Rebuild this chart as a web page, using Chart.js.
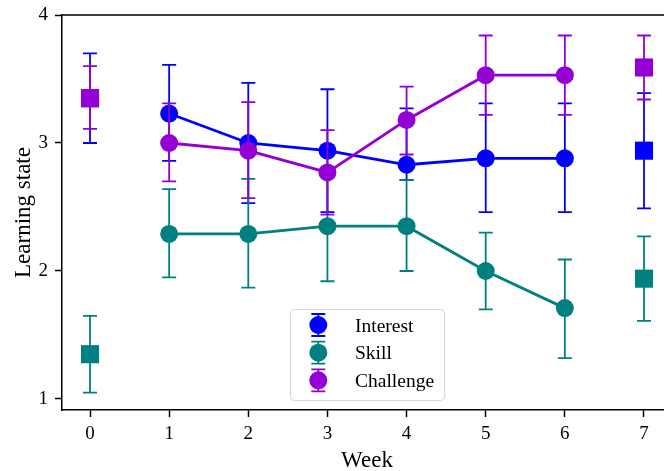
<!DOCTYPE html>
<html><head><meta charset="utf-8">
<script src="https://cdn.jsdelivr.net/npm/chart.js@4"></script>
<style>html,body{margin:0;padding:0;overflow:hidden;background:#fff;width:664px;height:471px}#wrap{width:680px;height:471px}</style>
</head><body><div id="wrap"><canvas id="c" width="680" height="471" style="width:680px;height:471px"></canvas></div>
<script>
// ---- data ----
const weeks = [0, 1, 2, 3, 4, 5, 6, 7];
const xTicks = [0, 1, 2, 3, 4, 5, 6, 7];
const yTicks = [1, 2, 3, 4];
const seriesNames = ['Interest', 'Skill', 'Challenge'];
const seriesColors = ['#0000ff', '#008080', '#9400d3'];

const interestMean = [3.35, 3.23, 3.00, 2.94, 2.83, 2.88, 2.88, 2.94];
const interestHigh = [3.70, 3.61, 3.47, 3.42, 3.27, 3.31, 3.31, 3.39];
const interestLow  = [3.00, 2.86, 2.53, 2.46, 2.71, 2.46, 2.46, 2.49];

const skillMean = [1.35, 2.29, 2.29, 2.35, 2.35, 2.00, 1.71, 1.94];
const skillHigh = [1.65, 2.64, 2.72, 2.78, 2.71, 2.30, 2.09, 2.27];
const skillLow  = [1.05, 1.95, 1.87, 1.92, 2.00, 1.70, 1.32, 1.61];

const challengeMean = [3.35, 3.00, 2.94, 2.77, 3.18, 3.53, 3.53, 3.59];
const challengeHigh = [3.60, 3.31, 3.32, 3.10, 3.44, 3.84, 3.84, 3.84];
const challengeLow  = [3.11, 2.70, 2.57, 2.44, 2.91, 3.22, 3.22, 3.34];

const lineIdx = [1, 2, 3, 4, 5, 6];   // weekly sessions (connected, circles)
const prePostIdx = [0, 7];            // pre / post (squares)

const means = [interestMean, skillMean, challengeMean];
const highs = [interestHigh, skillHigh, challengeHigh];
const lows = [interestLow, skillLow, challengeLow];

const FONT = "'Liberation Serif', 'Times New Roman', serif";

const datasets = [];
seriesNames.forEach((name, s) => {
  const col = seriesColors[s];
  const order = 3 - s; // later series drawn on top
  datasets.push({
    label: name,
    data: lineIdx.map(i => ({x: weeks[i], y: means[s][i]})),
    errLow: lineIdx.map(i => lows[s][i]),
    errHigh: lineIdx.map(i => highs[s][i]),
    showLine: true,
    borderColor: col, backgroundColor: col,
    borderWidth: 2.8,
    pointStyle: 'circle', pointRadius: 9, pointBorderWidth: 0,
    pointBackgroundColor: col, pointBorderColor: col,
    order: order + 0.5
  });
  datasets.push({
    label: name + ' (pre/post)',
    data: prePostIdx.map(i => ({x: weeks[i], y: means[s][i]})),
    errLow: prePostIdx.map(i => lows[s][i]),
    errHigh: prePostIdx.map(i => highs[s][i]),
    showLine: false,
    borderColor: col, backgroundColor: col,
    pointStyle: 'rect', pointRadius: 12.8, pointBorderWidth: 0,
    pointBackgroundColor: col, pointBorderColor: col,
    order: order
  });
});

const errorBars = {
  id: 'errorBars',
  beforeDatasetDraw(chart, args) {
    const ds = chart.data.datasets[args.index];
    const xs = chart.scales.x, ys = chart.scales.y;
    const ctx = chart.ctx, ca = chart.chartArea;
    ctx.save();
    ctx.beginPath();
    ctx.rect(ca.left, ca.top, ca.right - ca.left, ca.bottom - ca.top);
    ctx.clip();
    ctx.strokeStyle = ds.borderColor;
    ctx.lineWidth = 1.8;
    const cap = 7;
    ds.data.forEach((p, i) => {
      const px = xs.getPixelForValue(p.x);
      const y1 = ys.getPixelForValue(ds.errLow[i]);
      const y2 = ys.getPixelForValue(ds.errHigh[i]);
      ctx.beginPath();
      ctx.moveTo(px, y1); ctx.lineTo(px, y2);
      ctx.moveTo(px - cap, y1); ctx.lineTo(px + cap, y1);
      ctx.moveTo(px - cap, y2); ctx.lineTo(px + cap, y2);
      ctx.stroke();
    });
    ctx.restore();
  }
};

const framePlugin = {
  id: 'frame',
  afterDraw(chart) {
    const ctx = chart.ctx, ca = chart.chartArea;
    ctx.save();
    ctx.strokeStyle = '#000';
    ctx.lineWidth = 1.5;
    ctx.beginPath();
    ctx.moveTo(ca.left - 0.75, ca.top); ctx.lineTo(ca.right, ca.top);
    ctx.lineTo(ca.right, ca.bottom);
    ctx.stroke();

    // legend (errorbar glyph + label)
    const bx = 290.5, by = 309.5, bw = 154, bh = 91, r = 4;
    ctx.beginPath();
    ctx.moveTo(bx + r, by);
    ctx.arcTo(bx + bw, by, bx + bw, by + bh, r);
    ctx.arcTo(bx + bw, by + bh, bx, by + bh, r);
    ctx.arcTo(bx, by + bh, bx, by, r);
    ctx.arcTo(bx, by, bx + bw, by, r);
    ctx.closePath();
    ctx.fillStyle = 'rgba(255,255,255,0.8)';
    ctx.fill();
    ctx.strokeStyle = '#d6d6d6';
    ctx.lineWidth = 1;
    ctx.stroke();
    const rows = [325, 352.7, 380.3];
    seriesNames.forEach((name, s) => {
      const cy = rows[s], cx = 318.3, col = seriesColors[s];
      ctx.strokeStyle = col; ctx.fillStyle = col; ctx.lineWidth = 1.8;
      ctx.beginPath();
      ctx.moveTo(cx, cy - 11); ctx.lineTo(cx, cy + 11);
      ctx.moveTo(cx - 7, cy - 11); ctx.lineTo(cx + 7, cy - 11);
      ctx.moveTo(cx - 7, cy + 11); ctx.lineTo(cx + 7, cy + 11);
      ctx.stroke();
      ctx.beginPath(); ctx.arc(cx, cy, 9, 0, Math.PI * 2); ctx.fill();
      ctx.fillStyle = '#000';
      ctx.font = '19.5px ' + FONT;
      ctx.textAlign = 'left'; ctx.textBaseline = 'alphabetic';
      ctx.fillText(name, 355, cy + 6.5);
    });
    ctx.restore();
  }
};

new Chart(document.getElementById('c'), {
  type: 'scatter',
  data: {datasets},
  plugins: [errorBars, framePlugin],
  options: {
    responsive: false,
    animation: false,
    events: [],
    layout: {autoPadding: false, padding: {top: 15, right: 8, left: 0, bottom: 0}},
    plugins: {legend: {display: false}, tooltip: {enabled: false}},
    scales: {
      x: {
        type: 'linear', min: -0.354, max: 7.354,
        afterBuildTicks: s => { s.ticks = xTicks.map(v => ({value: v})); },
        afterFit: s => { s.height = 61; s.paddingLeft = 0; s.paddingRight = 0; },
        grid: {display: true, drawOnChartArea: false, drawTicks: true, tickLength: 7, tickColor: '#000', tickWidth: 1.5},
        border: {display: true, color: '#000', width: 1.5},
        ticks: {color: '#000', font: {family: FONT, size: 19}, padding: 6, maxRotation: 0, autoSkip: false,
                callback: v => String(v)},
        title: {display: true, text: 'Week', color: '#000', font: {family: FONT, size: 23, lineHeight: 0.84}, padding: {top: 0, bottom: 0}}
      },
      y: {
        type: 'linear', min: 0.914, max: 4,
        afterBuildTicks: s => { s.ticks = yTicks.map(v => ({value: v})); },
        afterFit: s => { s.width = 62; s.paddingTop = 0; s.paddingBottom = 0; },
        grid: {display: true, drawOnChartArea: false, drawTicks: true, tickLength: 7, tickColor: '#000', tickWidth: 1.5},
        border: {display: true, color: '#000', width: 1.5},
        ticks: {color: '#000', font: {family: FONT, size: 19}, padding: 7, callback: v => String(v)},
        title: {display: true, text: 'Learning state', color: '#000', font: {family: FONT, size: 23, lineHeight: 1.2}, padding: {top: 10.5, bottom: 0}}
      }
    }
  }
});
</script>
</body></html>
